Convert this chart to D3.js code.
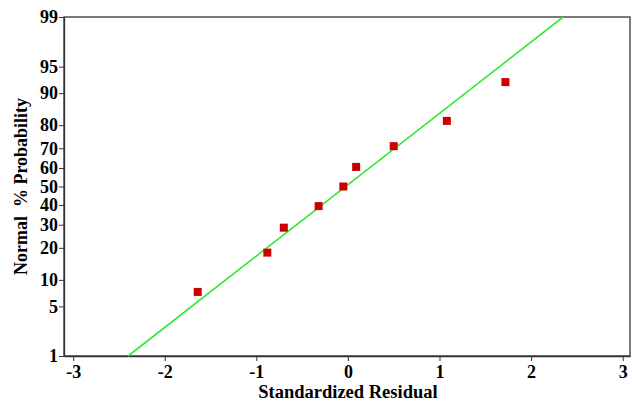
<!DOCTYPE html>
<html>
<head>
<meta charset="utf-8">
<script src="https://cdn.jsdelivr.net/npm/d3@7"></script>
<style>
  body { margin: 0; background: #fff; }
  text { font-family: "Liberation Serif", "Times New Roman", serif; font-weight: bold; }
</style>
</head>
<body>
<div id="chart"></div>
<script>
// Normal probability plot of residuals

// Data
var residuals = [-1.64, -0.88, -0.70, -0.32, -0.05, 0.09, 0.50, 1.08, 1.72];
var probabilities = [7.4, 18.2, 28.6, 39.4, 50, 60.6, 71, 81.6, 92.4];
var lineResidual = [-2.40, 2.35];
var lineProb = [1, 99];
var yTickProbs = [1, 5, 10, 20, 30, 40, 50, 60, 70, 80, 90, 95, 99];
var xTicks = [-3, -2, -1, 0, 1, 2, 3];

var svgWidth = 632;
var svgHeight = 404;
var margin = { top: 17, right: 2, bottom: 48, left: 64 };
var width = svgWidth - margin.left - margin.right;
var height = svgHeight - margin.top - margin.bottom;

// inverse normal cdf (Acklam's approximation)
function qnorm(p) {
  var a = [-3.969683028665376e+01, 2.209460984245205e+02, -2.759285104469687e+02, 1.383577518672690e+02, -3.066479806614716e+01, 2.506628277459239e+00];
  var b = [-5.447609879822406e+01, 1.615858368580409e+02, -1.556989798598866e+02, 6.680131188771972e+01, -1.328068155288572e+01];
  var c = [-7.784894002430293e-03, -3.223964580411365e-01, -2.400758277161838e+00, -2.549732539343734e+00, 4.374664141464968e+00, 2.938163982698783e+00];
  var d = [7.784695709041462e-03, 3.224671290700398e-01, 2.445134137142996e+00, 3.754408661907416e+00];
  var pl = 0.02425, q, r;
  if (p < pl) {
    q = Math.sqrt(-2 * Math.log(p));
    return (((((c[0]*q+c[1])*q+c[2])*q+c[3])*q+c[4])*q+c[5]) / ((((d[0]*q+d[1])*q+d[2])*q+d[3])*q+1);
  } else if (p <= 1 - pl) {
    q = p - 0.5; r = q * q;
    return (((((a[0]*r+a[1])*r+a[2])*r+a[3])*r+a[4])*r+a[5])*q / (((((b[0]*r+b[1])*r+b[2])*r+b[3])*r+b[4])*r+1);
  } else {
    q = Math.sqrt(-2 * Math.log(1 - p));
    return -(((((c[0]*q+c[1])*q+c[2])*q+c[3])*q+c[4])*q+c[5]) / ((((d[0]*q+d[1])*q+d[2])*q+d[3])*q+1);
  }
}
var pz = function (pct) { return qnorm(pct / 100); };

var svg = d3.select("#chart").append("svg")
  .attr("width", svgWidth)
  .attr("height", svgHeight);

var chartGroup = svg.append("g")
  .attr("transform", `translate(${margin.left}, ${margin.top})`);

var xScale = d3.scaleLinear().domain([-3.1, 3.08]).range([0, width]);
var yScale = d3.scaleLinear().domain([pz(1), pz(99)]).range([height, 0]);

// frame
chartGroup.append("rect")
  .attr("width", width)
  .attr("height", height)
  .attr("fill", "none")
  .attr("stroke", "#333")
  .attr("stroke-width", 1.3);

// axes
var bottomAxis = d3.axisBottom(xScale).tickValues(xTicks).tickSize(5).tickSizeOuter(0)
  .tickFormat(d3.format("d"));
var leftAxis = d3.axisLeft(yScale).tickValues(yTickProbs.map(pz)).tickSize(5).tickSizeOuter(0)
  .tickFormat(function (d, i) { return yTickProbs[i]; });

var xAxis = chartGroup.append("g")
  .attr("transform", `translate(0, ${height})`)
  .call(bottomAxis);
var yAxis = chartGroup.append("g").call(leftAxis);

[xAxis, yAxis].forEach(function (ax) {
  ax.select(".domain").attr("stroke", "#333").attr("stroke-width", 1.3);
  ax.selectAll(".tick line").attr("stroke", "#333");
  ax.selectAll(".tick text")
    .attr("fill", "#000")
    .attr("font-size", "18px")
    .style("font-family", "'Liberation Serif', serif")
    .style("font-weight", "bold");
});
xAxis.selectAll(".tick text").attr("dy", "0.8em").text(function (d) { return d < 0 ? "-" + Math.abs(d) : d; });
yAxis.selectAll(".tick text").attr("x", -6);

// fitted line
chartGroup.append("line")
  .attr("x1", xScale(lineResidual[0]))
  .attr("y1", yScale(pz(lineProb[0])))
  .attr("x2", xScale(lineResidual[1]))
  .attr("y2", yScale(pz(lineProb[1])))
  .attr("stroke", "#33e833")
  .attr("stroke-width", 1.6);

// points
var pts = residuals.map(function (r, i) { return { x: r, p: probabilities[i] }; });
chartGroup.selectAll(".pt")
  .data(pts)
  .enter()
  .append("rect")
  .attr("class", "pt")
  .attr("x", d => xScale(d.x) - 4)
  .attr("y", d => yScale(pz(d.p)) - 4)
  .attr("width", 8)
  .attr("height", 8)
  .attr("fill", "#cc0000");

// axis titles
svg.append("text")
  .attr("x", margin.left + xScale(0))
  .attr("y", 398)
  .attr("text-anchor", "middle")
  .attr("font-size", "18.5px")
  .text("Standardized Residual");

svg.append("text")
  .attr("transform", `translate(27, ${margin.top + height / 2}) rotate(-90)`)
  .attr("text-anchor", "middle")
  .attr("font-size", "18px")
  .attr("xml:space", "preserve")
  .style("white-space", "pre")
  .text("Normal  % Probability");
</script>
</body>
</html>
